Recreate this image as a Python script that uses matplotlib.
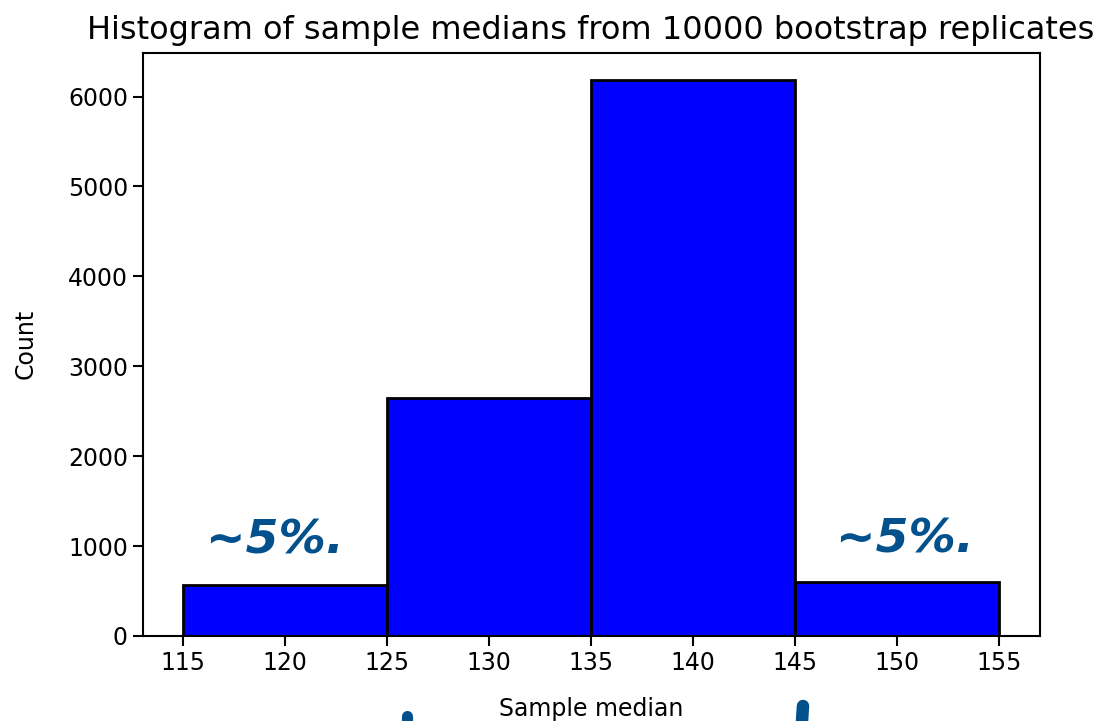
import numpy as np
import matplotlib
matplotlib.use('Agg')
import matplotlib.pyplot as plt
from matplotlib.lines import Line2D

# Bin edges and counts
bin_edges = [115, 125, 135, 145, 155]
counts = [570, 2650, 6180, 600]
x_ticks = [115, 120, 125, 130, 135, 140, 145, 150, 155]
y_ticks = [0, 1000, 2000, 3000, 4000, 5000, 6000]

# handwritten notes
note_text = '~5%.'
note_pos = [(119.5, 1060), (150.4, 1070)]
ink = '#02508c'

fig = plt.figure(figsize=(11.05, 7.21), dpi=100)
ax = fig.add_axes([0.129, 0.118, 0.812, 0.809])

centers = np.array(bin_edges[:-1]) + 5
ax.hist(centers, bins=bin_edges, weights=counts, color='#0000ff',
        edgecolor='black', linewidth=2)

ax.set_xticks(x_ticks)
ax.set_yticks(y_ticks)
ax.tick_params(labelsize=17, length=7, width=1.5)
for s in ax.spines.values():
    s.set_linewidth(1.5)

ax.set_title('Histogram of sample medians from 10000 bootstrap replicates',
             fontsize=23, pad=10)
ax.set_xlabel('Sample median', fontsize=17, labelpad=16)
ax.set_ylabel('Count', fontsize=17, labelpad=22)

for (x, y) in note_pos:
    ax.text(x, y, note_text, color=ink, fontsize=34, fontweight='bold',
            style='italic', ha='center', va='center')

# stray pen marks cut off at the bottom edge
W, H = 1105, 721
fig.add_artist(Line2D([407 / W, 407 / W], [1 - 716 / H, 1 - 721 / H],
                      color=ink, linewidth=8, solid_capstyle='round'))
fig.add_artist(Line2D([803 / W, 802 / W], [1 - 706 / H, 1 - 721 / H],
                      color=ink, linewidth=9, solid_capstyle='round'))

fig.savefig('out.png', dpi=100)
